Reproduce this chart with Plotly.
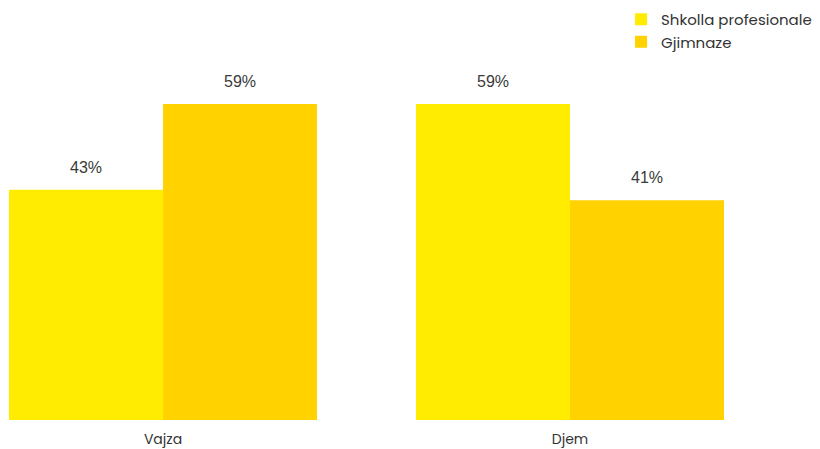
import plotly.graph_objects as go

categories = ["Vajza", "Djem"]
series_names = ["Shkolla profesionale", "Gjimnaze"]
profesionale = [43, 59]
gjimnaze = [59, 41]
colors = ["#FFEC00", "#FFD200"]

values = [profesionale, gjimnaze]
font_family = "Poppins, Inter, Noto Sans, sans-serif"
label_family = "Liberation Sans, Arial, sans-serif"

fig = go.Figure()
for name, vals, col in zip(series_names, values, colors):
    fig.add_trace(go.Bar(
        x=categories, y=vals, name=name,
        marker=dict(color=col, line=dict(width=0)),
        hoverinfo="skip",
    ))

# value labels above each bar
bar_px = 154
offsets = [-bar_px / 2, bar_px / 2]
for vals, off in zip(values, offsets):
    for cat, v in zip(categories, vals):
        fig.add_annotation(
            x=cat, y=v, text=f"{v}%", showarrow=False,
            xshift=off, yshift=12, yanchor="bottom",
            font=dict(size=16, color="#3a3a3a", family=label_family),
        )

fig.update_layout(
    width=820, height=449,
    margin=dict(l=0, r=0, t=45, b=29),
    paper_bgcolor="white", plot_bgcolor="white",
    barmode="group", bargap=0.2432, bargroupgap=0,
    font=dict(family=font_family, size=14, color="#333333"),
    showlegend=True,
    legend=dict(
        x=0.7574, y=1.112, xanchor="left", yanchor="top",
        font=dict(size=15, color="#333333"),
        itemsizing="constant",
        bgcolor="rgba(0,0,0,0)",
    ),
    xaxis=dict(
        range=[-0.4005, 1.6143], showgrid=False, zeroline=False,
        showline=False, ticks="", ticklabelstandoff=9,
        tickfont=dict(size=14, color="#333333"),
    ),
    yaxis=dict(range=[0, 70], visible=False),
)

fig.write_html("out.html")
